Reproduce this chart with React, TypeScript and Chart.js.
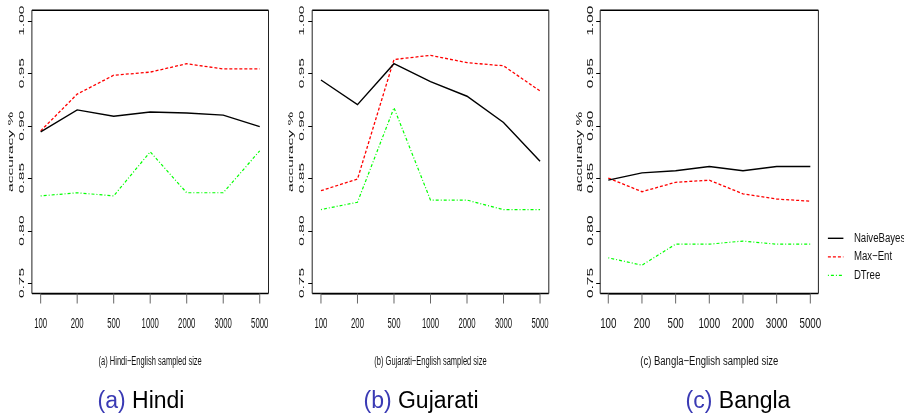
import React, { useEffect, useRef } from 'react';
import { Chart, registerables } from 'chart.js';

Chart.register(...registerables);

// ---------- data ----------
const sampleSizes = ['100', '200', '500', '1000', '2000', '3000', '5000'];
const yTickValues = [0.75, 0.8, 0.85, 0.9, 0.95, 1.0];
const seriesNames = ['NaiveBayes', 'Max\u2212Ent', 'DTree'];
const axisTitles = [
  '(a) Hindi\u2212English sampled size',
  '(b) Gujarati\u2212English sampled size',
  '(c) Bangla\u2212English sampled size',
];
const captionTags = ['(a)', '(b)', '(c)'];
const captionNames = ['Hindi', 'Gujarati', 'Bangla'];
const yAxisTitle = 'accuracy %';

const hindiNaiveBayes = [0.894, 0.915, 0.909, 0.913, 0.912, 0.91, 0.899];
const hindiMaxEnt = [0.895, 0.93, 0.948, 0.951, 0.959, 0.954, 0.954];
const hindiDTree = [0.833, 0.836, 0.833, 0.875, 0.836, 0.836, 0.876];

const gujaratiNaiveBayes = [0.9435, 0.92, 0.959, 0.942, 0.928, 0.903, 0.866];
const gujaratiMaxEnt = [0.838, 0.849, 0.963, 0.967, 0.96, 0.957, 0.933];
const gujaratiDTree = [0.82, 0.827, 0.917, 0.829, 0.829, 0.82, 0.82];

const banglaNaiveBayes = [0.848, 0.855, 0.857, 0.861, 0.857, 0.861, 0.861];
const banglaMaxEnt = [0.85, 0.837, 0.846, 0.848, 0.835, 0.83, 0.828];
const banglaDTree = [0.774, 0.767, 0.787, 0.787, 0.79, 0.787, 0.787];

const panelSeries = [
  [hindiNaiveBayes, hindiMaxEnt, hindiDTree],
  [gujaratiNaiveBayes, gujaratiMaxEnt, gujaratiDTree],
  [banglaNaiveBayes, banglaMaxEnt, banglaDTree],
];

// ---------- styles / layout ----------
const FONT = '"Liberation Sans", Arial, Helvetica, sans-serif';
const H = 413;
const seriesStyles = [
  { color: '#000000', width: 1.4, dash: [] as number[] },
  { color: '#ff0000', width: 1.3, dash: [3, 2] },
  { color: '#00ff00', width: 1.2, dash: [1, 2, 3, 2] },
];

const panels = [
  { left: 0, width: 280, boxLeft: 31.9, boxRight: 268.5, sxTick: 0.5, sxY: 0.48, sxTitle: 0.6, legend: false, captionCenter: 141 },
  { left: 280, width: 290, boxLeft: 32.2, boxRight: 268.8, sxTick: 0.5, sxY: 0.48, sxTitle: 0.6, legend: false, captionCenter: 421 },
  { left: 570, width: 334, boxLeft: 30.2, boxRight: 248.4, sxTick: 0.63, sxY: 0.55, sxTitle: 0.76, legend: true, captionCenter: 738 },
];
const BOX_TOP = 10.2;
const BOX_BOTTOM = 293.5;

function drawText(
  ctx: CanvasRenderingContext2D,
  text: string,
  x: number,
  y: number,
  sx: number,
  rotate: boolean,
  font: string,
  align: CanvasTextAlign,
) {
  ctx.save();
  ctx.translate(x, y);
  ctx.scale(sx, 1);
  if (rotate) ctx.rotate(-Math.PI / 2);
  ctx.font = font;
  ctx.fillStyle = '#111';
  ctx.textAlign = align;
  ctx.textBaseline = 'middle';
  ctx.fillText(text, 0, 0);
  ctx.restore();
}

function makeAxesPlugin(pi: number) {
  const p = panels[pi];
  return {
    id: 'rAxes' + pi,
    afterDraw(chart: any) {
      const ctx: CanvasRenderingContext2D = chart.ctx;
      const xs = chart.scales.x;
      const ys = chart.scales.y;
      const { left, right, top, bottom } = chart.chartArea;
      ctx.save();
      // box
      ctx.strokeStyle = '#000';
      ctx.lineWidth = 1.4;
      ctx.beginPath();
      ctx.moveTo(left, top);
      ctx.lineTo(right, top);
      ctx.moveTo(left, bottom);
      ctx.lineTo(right, bottom);
      ctx.stroke();
      ctx.lineWidth = 1;
      ctx.strokeStyle = '#222';
      ctx.beginPath();
      ctx.moveTo(left, top);
      ctx.lineTo(left, bottom);
      ctx.moveTo(right, top);
      ctx.lineTo(right, bottom);
      ctx.stroke();
      // x axis line + ticks
      ctx.strokeStyle = '#000';
      ctx.lineWidth = 1;
      ctx.beginPath();
      ctx.moveTo(xs.getPixelForValue(0), bottom + 0.5);
      ctx.lineTo(xs.getPixelForValue(sampleSizes.length - 1), bottom + 0.5);
      ctx.stroke();
      ctx.strokeStyle = '#666';
      ctx.beginPath();
      sampleSizes.forEach((_, i) => {
        const x = xs.getPixelForValue(i);
        ctx.moveTo(x, bottom);
        ctx.lineTo(x, bottom + 10);
      });
      ctx.stroke();
      sampleSizes.forEach((lab, i) => {
        drawText(ctx, lab, xs.getPixelForValue(i), 323.5, p.sxTick, false, `15.5px ${FONT}`, 'center');
      });
      // y ticks
      ctx.strokeStyle = '#000';
      ctx.beginPath();
      yTickValues.forEach((v) => {
        const y = Math.round(ys.getPixelForValue(v)) + 0.5;
        ctx.moveTo(left - 4, y);
        ctx.lineTo(left, y);
      });
      ctx.stroke();
      yTickValues.forEach((v) => {
        drawText(ctx, v.toFixed(2), left - 10, ys.getPixelForValue(v), p.sxY, true, `15.5px ${FONT}`, 'center');
      });
      // y title
      drawText(ctx, yAxisTitle, left - 21, (top + bottom) / 2, p.sxY, true, `15.5px ${FONT}`, 'center');
      // x title
      drawText(ctx, axisTitles[pi], (left + right) / 2, 362, p.sxTitle, false, `12.5px ${FONT}`, 'center');
      // legend
      if (p.legend) {
        const lx0 = right + 9.5;
        const lx1 = right + 25;
        const tx = right + 35.5;
        const ly = [238.3, 256.8, 275.3];
        chart.data.datasets.forEach((ds: any, k: number) => {
          ctx.save();
          ctx.strokeStyle = ds.borderColor;
          ctx.lineWidth = ds.borderWidth;
          ctx.setLineDash(ds.borderDash || []);
          ctx.beginPath();
          ctx.moveTo(lx0, ly[k]);
          ctx.lineTo(lx1, ly[k]);
          ctx.stroke();
          ctx.restore();
          drawText(ctx, ds.label, tx, ly[k], 0.77, false, `12.5px ${FONT}`, 'left');
        });
      }
      ctx.restore();
    },
  };
}

function Panel({ pi }: { pi: number }) {
  const ref = useRef<HTMLCanvasElement | null>(null);
  const p = panels[pi];
  useEffect(() => {
    if (!ref.current) return;
    const n = sampleSizes.length - 1;
    const pad = 0.04 * n;
    const chart = new Chart(ref.current, {
      type: 'line',
      data: {
        datasets: panelSeries[pi].map((vals, k) => ({
          label: seriesNames[k],
          data: vals.map((v, i) => ({ x: i, y: v })),
          borderColor: seriesStyles[k].color,
          borderWidth: seriesStyles[k].width,
          borderDash: seriesStyles[k].dash,
          pointRadius: 0,
          tension: 0,
          fill: false,
        })),
      },
      options: {
        animation: false,
        responsive: false,
        maintainAspectRatio: false,
        devicePixelRatio: 1,
        layout: {
          padding: {
            left: p.boxLeft,
            right: p.width - p.boxRight,
            top: BOX_TOP,
            bottom: H - BOX_BOTTOM,
          },
        },
        plugins: { legend: { display: false }, title: { display: false }, tooltip: { enabled: false } },
        scales: {
          x: { type: 'linear', display: false, min: -pad, max: n + pad },
          y: { type: 'linear', display: false, min: 0.74, max: 1.01 },
        },
      },
      plugins: [makeAxesPlugin(pi)],
    } as any);
    return () => chart.destroy();
  }, [pi]);
  return (
    <canvas
      ref={ref}
      width={p.width}
      height={H}
      style={{ position: 'absolute', left: p.left, top: 0, width: p.width, height: H }}
    />
  );
}

export default function App() {
  return (
    <div style={{ position: 'fixed', left: 0, top: 0, width: 904, height: H, background: '#fff', overflow: 'hidden' }}>
      {panels.map((_, i) => (
        <Panel key={i} pi={i} />
      ))}
      {panels.map((p, i) => (
        <div
          key={'c' + i}
          style={{
            position: 'absolute',
            left: p.captionCenter - 100,
            width: 200,
            top: 388.5,
            textAlign: 'center',
            fontFamily: FONT,
            fontSize: 23,
            lineHeight: '23px',
            whiteSpace: 'nowrap',
            color: '#000',
          }}
        >
          <span style={{ color: '#3a3ab4' }}>{captionTags[i]}</span> {captionNames[i]}
        </div>
      ))}
    </div>
  );
}
